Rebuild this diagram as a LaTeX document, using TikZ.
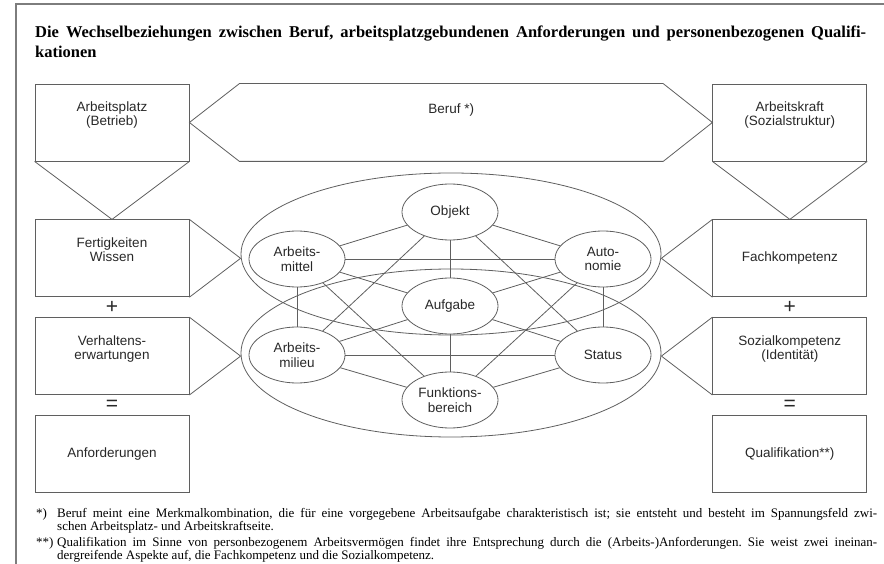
\documentclass[tikz,border=0pt]{standalone}
\usepackage{fontspec}
\setmainfont{Liberation Serif}
\setsansfont{Liberation Sans}
\definecolor{FrameGray}{RGB}{125, 125, 125}
\definecolor{LineGray}{RGB}{95, 95, 95}
\definecolor{TextGray}{RGB}{40, 40, 40}
\usetikzlibrary{shapes.geometric, positioning, calc}

\begin{document}
\begin{tikzpicture}[
        x=1pt, y=-1pt,
        node distance=20pt,
        box/.style={draw=LineGray, line width=0.8pt, rectangle, minimum width=154pt, minimum height=77pt, inner sep=0pt, align=center, text=TextGray, font=\sffamily\fontsize{13.5}{14}\selectfont},
        raised/.style={text height=16pt, text depth=9pt},
        cell/.style={draw=LineGray, line width=0.8pt, ellipse, minimum width=96pt, minimum height=56pt, inner sep=0pt, align=center, text=TextGray, font=\sffamily\fontsize{13.5}{14.5}\selectfont},
        ring/.style={draw=LineGray, line width=0.8pt, ellipse, minimum width=420pt, inner sep=0pt},
        link/.style={draw=LineGray, line width=0.8pt},
        sign/.style={text=TextGray, inner sep=0pt, font=\sffamily\fontsize{21}{21}\selectfont}
      ]
        \useasboundingbox (0,0) rectangle (884,564);
        \draw [FrameGray, line width=1.5pt] (16,564) -- (16,4) -- (884,4);

        \node (title) [anchor=north west, inner sep=0pt, align=left, font=\bfseries\fontsize{16.5}{20.5}\selectfont\frenchspacing] at (35,25.2) {\makebox[831pt][s]{Die Wechselbeziehungen zwischen Beruf, arbeitsplatzgebundenen Anforderungen und personenbezogenen Qualifi-}\\kationen};

        \node (platz) [box, raised] at (112,122.5) {Arbeitsplatz\\(Betrieb)};
        \node (fertig) [box, raised, below=58pt of platz] {Fertigkeiten\\Wissen};
        \node (verhalten) [box, raised, below=of fertig] {Verhaltens-\\erwartungen};
        \node (anford) [box, below=of verhalten] {Anforderungen};
        \node (kraft) [box, raised, right=523pt of platz] {Arbeitskraft\\(Sozialstruktur)};
        \node (fachk) [box, below=58pt of kraft] {Fachkompetenz};
        \node (sozial) [box, raised, below=of fachk] {Sozialkompetenz\\(Identität)};
        \node (quali) [box, below=of sozial] {Qualifikation**)};
        \node (beruf) [box, draw=none, text height=9pt, text depth=27pt, minimum width=423pt, right=50pt of platz] {Beruf *)};

        \node (plusL) [sign] at ($(fertig.south)!.5!(verhalten.north)$) {+};
        \node (gleichL) [sign] at ($(verhalten.south)!.5!(anford.north)$) {=};
        \node (plusR) [sign] at ($(fachk.south)!.5!(sozial.north)$) {+};
        \node (gleichR) [sign] at ($(sozial.south)!.5!(quali.north)$) {=};

        \node (upper) [ring, minimum height=162pt] at (451,254) {};
        \node (lower) [ring, minimum height=168pt] at (451,353) {};

        \node (objekt) [cell] at (450,212) {Objekt};
        \node (mittel) [cell] at (297,259) {Arbeits-\\mittel};
        \node (autonomie) [cell] at (603,259) {Auto-\\nomie};
        \node (aufgabe) [cell] at (450,306) {Aufgabe};
        \node (milieu) [cell] at (297,355) {Arbeits-\\milieu};
        \node (status) [cell] at (603,355) {Status};
        \node (funktion) [cell] at (450,400) {Funktions-\\bereich};

        \draw [link] (platz.east) -- (beruf.north west) -- (beruf.north east) -- (kraft.west) -- (beruf.south east) -- (beruf.south west) -- cycle;
        \draw [link] (platz.south west) -- (fertig.north) -- (platz.south east);
        \draw [link] (kraft.south west) -- (fachk.north) -- (kraft.south east);
        \draw [link] (fertig.north east) -- (upper.west |- fertig.east) -- (fertig.south east);
        \draw [link] (verhalten.north east) -- (lower.west |- verhalten.east) -- (verhalten.south east);
        \draw [link] (fachk.north west) -- (upper.east |- fachk.west) -- (fachk.south west);
        \draw [link] (sozial.north west) -- (lower.east |- sozial.west) -- (sozial.south west);

        \draw [link] (objekt) -- (mittel);
        \draw [link] (objekt) -- (autonomie);
        \draw [link] (objekt) -- (aufgabe);
        \draw [link] (objekt) -- (milieu);
        \draw [link] (objekt) -- (status);
        \draw [link] (mittel) -- (autonomie);
        \draw [link] (mittel) -- (aufgabe);
        \draw [link] (mittel) -- (milieu);
        \draw [link] (mittel) -- (funktion);
        \draw [link] (autonomie) -- (aufgabe);
        \draw [link] (autonomie) -- (status);
        \draw [link] (autonomie) -- (funktion);
        \draw [link] (aufgabe) -- (milieu);
        \draw [link] (aufgabe) -- (status);
        \draw [link] (aufgabe) -- (funktion);
        \draw [link] (milieu) -- (status);
        \draw [link] (milieu) -- (funktion);
        \draw [link] (status) -- (funktion);

        \node (notes) [anchor=north west, inner sep=0pt, align=left, font=\fontsize{13}{13}\selectfont\frenchspacing] at (36,508) {\makebox[21pt][l]{*)}\makebox[820pt][s]{Beruf meint eine Merkmalkombination, die für eine vorgegebene Arbeitsaufgabe charakteristisch ist; sie entsteht und besteht im Spannungsfeld zwi-}\\\hspace*{21pt}schen Arbeitsplatz- und Arbeitskraftseite.\\[3pt]\makebox[21pt][l]{**)}\makebox[820pt][s]{Qualifikation im Sinne von personbezogenem Arbeitsvermögen findet ihre Entsprechung durch die (Arbeits-)Anforderungen. Sie weist zwei ineinan-}\\\hspace*{21pt}dergreifende Aspekte auf, die Fachkompetenz und die Sozialkompetenz.};
      \end{tikzpicture}
\end{document}
